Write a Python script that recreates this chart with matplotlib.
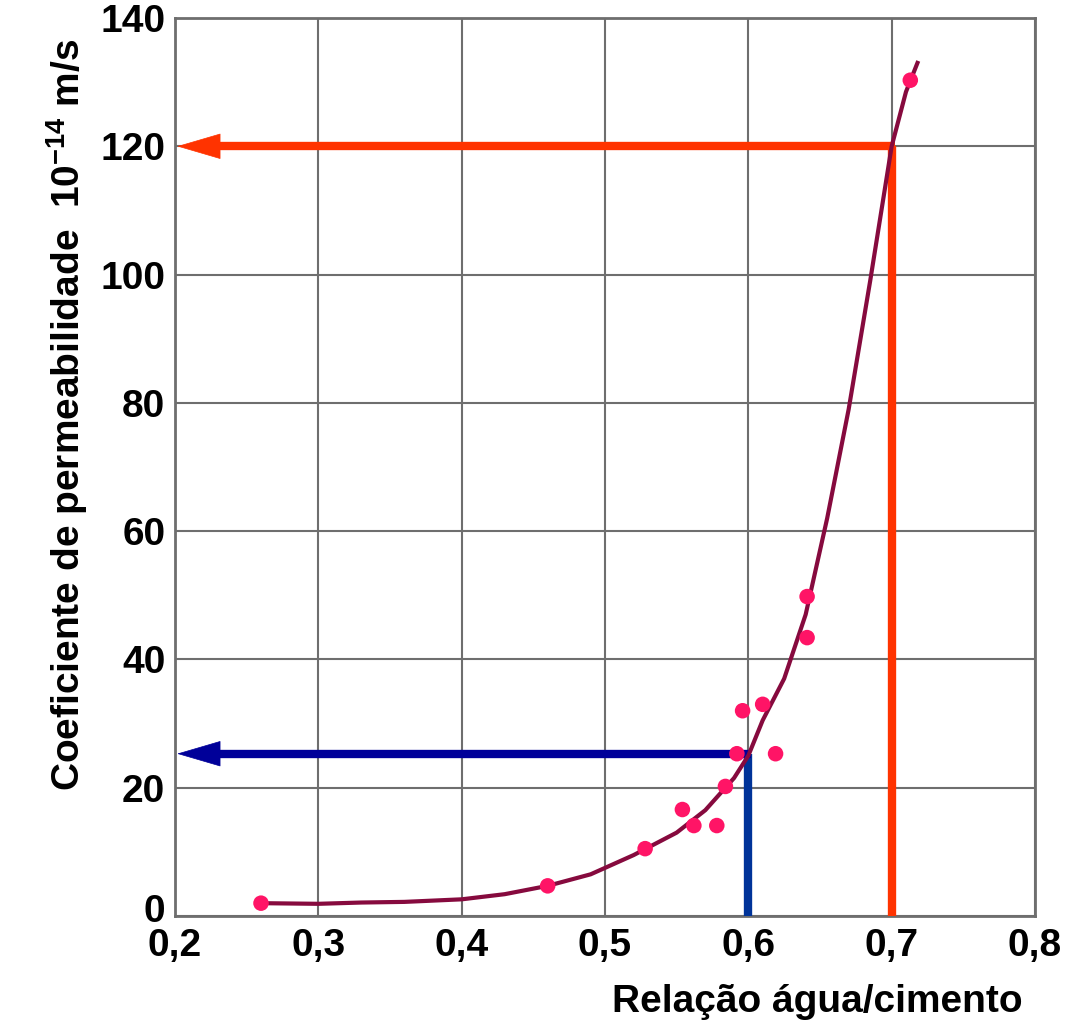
import matplotlib
matplotlib.use("Agg")
import matplotlib.pyplot as plt
from matplotlib.transforms import ScaledTranslation

plt.rcParams["font.family"] = ["Liberation Sans", "DejaVu Sans"]
plt.rcParams["font.weight"] = "bold"
plt.rcParams["mathtext.fontset"] = "custom"
plt.rcParams["mathtext.rm"] = "Liberation Sans:bold"
plt.rcParams["mathtext.it"] = "Liberation Sans:bold"
plt.rcParams["mathtext.bf"] = "Liberation Sans:bold"

# measured points (relação a/c, permeabilidade)
pts_x = [0.26, 0.46, 0.528, 0.554, 0.562, 0.578, 0.584, 0.592, 0.596, 0.61, 0.619, 0.641, 0.641, 0.713]
pts_y = [2.0, 4.7, 10.5, 16.6, 14.1, 14.1, 20.2, 25.3, 32.0, 33.0, 25.3, 43.4, 49.8, 130.3]

# fitted curve
curve_x = [0.26, 0.30, 0.33, 0.36, 0.40, 0.43, 0.46, 0.49, 0.52, 0.55, 0.57, 0.59, 0.60,
           0.61, 0.625, 0.64, 0.655, 0.67, 0.685, 0.70, 0.71, 0.718]
curve_y = [2.0, 1.9, 2.1, 2.2, 2.6, 3.4, 4.7, 6.5, 9.5, 13.0, 16.5, 21.5, 25.0,
           30.5, 37.0, 47.0, 62.0, 79.0, 99.0, 120.0, 128.5, 133.0]

# reading guides
red_x, red_y = 0.70, 120.0
blue_x, blue_y = 0.60, 25.3

x_ticks = [0.2, 0.3, 0.4, 0.5, 0.6, 0.7, 0.8]
x_labels = ["0,2", "0,3", "0,4", "0,5", "0,6", "0,7", "0,8"]
y_ticks = [0, 20, 40, 60, 80, 100, 120, 140]

GRID = "#6e6e6e"
CURVE = "#860a3e"
DOT = "#ff1466"
RED = "#ff3300"
NAVY = "#000099"
BLUE = "#003399"

fig = plt.figure(figsize=(10.65, 10.28), dpi=100)
ax = fig.add_axes([175 / 1065, 1 - 916 / 1028, 860 / 1065, 898 / 1028])

ax.set_xlim(0.2, 0.8)
ax.set_ylim(0, 140)
ax.set_xticks(x_ticks)
ax.set_xticklabels(x_labels)
ax.set_yticks(y_ticks)
ax.grid(True, color=GRID, linewidth=1.5)
ax.set_axisbelow(True)
for s in ax.spines.values():
    s.set_color(GRID)
    s.set_linewidth(2)
ax.tick_params(length=0, labelsize=28, pad=7)
ax.tick_params(axis="x", pad=9)

# lift the "0" on the y axis a little, as in the original
zero = ax.get_yticklabels()[0]
zero.set_transform(zero.get_transform() + ScaledTranslation(0, 6 / 72, fig.dpi_scale_trans))


def guide(x, y, c_h, c_v):
    ax.plot([x, x], [0, y], color=c_v, linewidth=6, solid_capstyle="butt", zorder=3)
    ax.plot([0.215, x + 0.002], [y, y], color=c_h, linewidth=6, solid_capstyle="butt", zorder=3)
    ax.annotate("", xy=(0.2015, y), xytext=(0.24, y),
                arrowprops=dict(arrowstyle="-|>,head_length=0.75,head_width=0.22", color=c_h,
                                lw=0.5, mutation_scale=40, shrinkA=0, shrinkB=0), zorder=3)


guide(red_x, red_y, RED, RED)
guide(blue_x, blue_y, NAVY, BLUE)

ax.plot(curve_x, curve_y, color=CURVE, linewidth=3, zorder=4)
ax.scatter(pts_x, pts_y, s=125, color=DOT, edgecolors="none", zorder=5)

fig.text(0.063, 0.596, r"Coeficiente de permeabilidade  10$^{-14}$ m/s", rotation=90,
         ha="center", va="center", fontsize=28, fontweight="bold")
fig.text(0.96, 0.008, "Relação água/cimento", ha="right", va="bottom",
         fontsize=28, fontweight="bold")

fig.savefig("out.png", dpi=100)
